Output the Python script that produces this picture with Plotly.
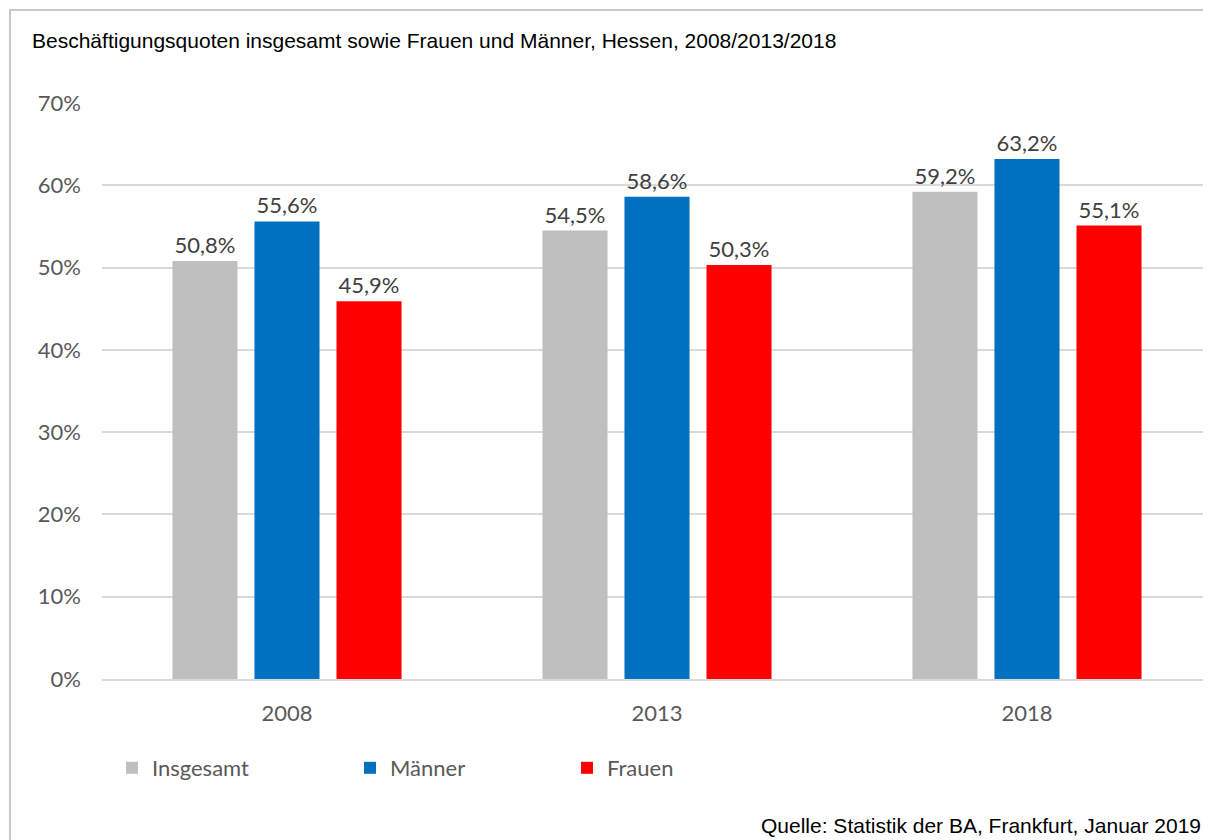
import plotly.graph_objects as go

years = ["2008", "2013", "2018"]
insgesamt = [50.8, 54.5, 59.2]
maenner = [55.6, 58.6, 63.2]
frauen = [45.9, 50.3, 55.1]
series_names = ["Insgesamt", "Männer", "Frauen"]
colors = ["#bfbfbf", "#0070c0", "#ff0000"]

OFF = 8  # page body margin
W, H = 1195, 832
L, R, T, B = 94, 0, 95, 161
pw, ph = W - L - R, H - T - B
PLOT_RIGHT_REF = 1212  # category band layout width reference in page px

def px_x(x):
    return (x - OFF - L) / pw

def px_y(y):
    return (H - B - (y - OFF)) / ph

FONT = "Lato"
legend_names = ["legend", "legend2", "legend3"]
legend_x = [112, 350, 567]

fig = go.Figure()
for name, vals, col, lg in zip(series_names, [insgesamt, maenner, frauen], colors, legend_names):
    fig.add_trace(go.Bar(
        x=years, y=vals, name=name, legend=lg,
        marker=dict(color=col, line=dict(width=0)),
        texttemplate="%{y:.1f}%", textposition="outside",
        textfont=dict(family=FONT, size=22, color="#404040"),
        cliponaxis=False,
    ))

leg_common = dict(orientation="h", yanchor="middle", xanchor="left",
                  font=dict(family=FONT, size=22, color="#595959"),
                  bgcolor="rgba(0,0,0,0)", itemwidth=30)
# x range extended so the category bands keep the reference spacing
band_px = (PLOT_RIGHT_REF - OFF - L) / 3.0
x_hi = 2.5 - (PLOT_RIGHT_REF - OFF - L - pw) / band_px
fig.update_layout(
    width=W, height=H,
    margin=dict(l=L, r=R, t=T, b=B),
    paper_bgcolor="white", plot_bgcolor="white",
    separators=",.",
    barmode="group", bargap=0.335, bargroupgap=0.207,
    showlegend=True,
    legend=dict(x=px_x(legend_x[0]), y=px_y(768), **leg_common),
    legend2=dict(x=px_x(legend_x[1]), y=px_y(768), **leg_common),
    legend3=dict(x=px_x(legend_x[2]), y=px_y(768), **leg_common),
    font=dict(family=FONT, size=22, color="#595959"),
    xaxis=dict(showgrid=False, showline=True, linecolor="#d9d9d9", linewidth=2,
               ticks="", tickfont=dict(family=FONT, size=22, color="#595959"),
               ticklabelstandoff=14, range=[-0.5, x_hi]),
    yaxis=dict(range=[0, 70], dtick=10, ticksuffix="%", showgrid=True, gridcolor="#d9d9d9",
               gridwidth=1.5, zeroline=False, showline=False, ticks="",
               tickfont=dict(family=FONT, size=22, color="#595959"),
               ticklabelstandoff=20),
)

fig.add_shape(type="rect", xref="paper", yref="paper",
              x0=px_x(10), x1=px_x(1300), y0=px_y(900), y1=px_y(10),
              line=dict(color="#c8c8c8", width=2), fillcolor="rgba(0,0,0,0)", layer="below")

fig.add_annotation(text="Beschäftigungsquoten insgesamt sowie Frauen und Männer, Hessen, 2008/2013/2018",
                   xref="paper", yref="paper", x=px_x(30), y=px_y(40), xanchor="left", yanchor="middle",
                   showarrow=False, font=dict(family="Liberation Sans", size=21, color="#000000"))
fig.add_annotation(text="Quelle: Statistik der BA, Frankfurt, Januar 2019",
                   xref="paper", yref="paper", x=px_x(1203), y=px_y(825), xanchor="right", yanchor="middle",
                   showarrow=False, font=dict(family="Liberation Sans", size=21, color="#000000"))

fig.write_html("out.html")
